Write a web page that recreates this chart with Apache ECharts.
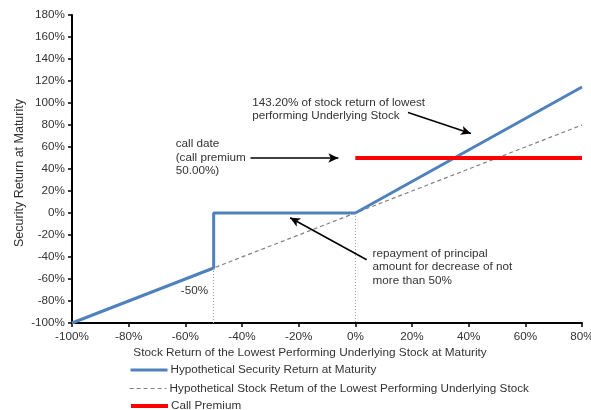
<!DOCTYPE html>
<html><head><meta charset="utf-8">
<script src="https://cdn.jsdelivr.net/npm/echarts@6/dist/echarts.min.js"></script>
<style>html,body{margin:0;padding:0;background:#fff}#c{width:591px;height:410px}</style>
</head><body><div id="c"></div>
<script>
// ---- data ----
const seriesNames = [
  'Hypothetical Security Return at Maturity',
  'Hypothetical Stock Retum of the Lowest Performing Underlying Stock',
  'Call Premium'
];
const securityX = [-100, -50, -50, 0, 80];
const securityY = [-100, -50, 0, 0, 114.56];
const stockX = [-100, 80];
const stockY = [-100, 80];
const premiumX = [0, 80];
const premiumY = [50, 50];
const guideFrom = [[-50, -50], [0, 0]];
const guideTo = [[-50, -100], [0, -100]];
const arrowFrom = [[-37, 50], [18.6, 91.3], [4.0, -42.5]];
const arrowTo = [[-6, 50], [40.8, 72.2], [-23.0, -4.3]];
const noteTexts = [
  'call date\n(call premium\n50.00%)',
  '143.20% of stock return of lowest\nperforming Underlying Stock',
  'repayment of principal\namount for decrease of not\nmore than 50%',
  '-50%'
];
const noteAnchors = [[-63.4, 50.5], [-36.4, 94.5], [6.1, -49.3], [-56.8, -71]];
const noteAlign = ['left', 'left', 'left', 'center'];
const xAxisName = 'Stock Return of the Lowest Performing Underlying Stock at Maturity';
const yAxisName = 'Security Return at Maturity';

const zip = (a, b) => a.map((v, i) => [v, b[i]]);
const FONT = 'Liberation Sans';
const TXT = '#333';
const FS = 11.7;

const legendTops = [364, 382.5, 400];
const legendLineWidths = [3, 1.2, 4];

const chart = echarts.init(document.getElementById('c'));
const option = {
  animation: false,
  backgroundColor: '#fff',
  textStyle: { fontFamily: FONT },
  grid: { left: 72, right: 9, top: 15, bottom: 87, containLabel: false, outerBoundsMode: 'none' },
  legend: seriesNames.map((n, i) => ({
    orient: 'vertical', left: 129, top: legendTops[i], padding: 0,
    itemWidth: 37, itemHeight: 14, itemGap: 4,
    itemStyle: { opacity: 0 },
    lineStyle: { width: legendLineWidths[i] },
    textStyle: { fontFamily: FONT, fontSize: FS, color: TXT, padding: [0, 0, 0, -2] },
    data: [n]
  })),
  xAxis: {
    type: 'value', min: -100, max: 80, interval: 20,
    name: xAxisName, nameLocation: 'middle', nameGap: 24, nameMoveOverlap: false,
    nameTextStyle: { fontFamily: FONT, fontSize: 11.8, color: TXT, padding: [0, 34, 0, 0] },
    axisLine: { show: true, onZero: false, lineStyle: { color: '#000', width: 2 } },
    axisTick: { show: true, inside: false, length: 4, lineStyle: { color: '#000', width: 1.5 } },
    axisLabel: { formatter: '{value}%', fontFamily: FONT, fontSize: FS, color: TXT, margin: 8 },
    splitLine: { show: false }
  },
  yAxis: {
    type: 'value', min: -100, max: 180, interval: 20,
    name: yAxisName, nameLocation: 'middle', nameGap: 46, nameRotate: 90, nameMoveOverlap: false,
    nameTextStyle: { fontFamily: FONT, fontSize: 12.5, color: TXT, padding: [0, 8, 0, 0] },
    axisLine: { show: true, onZero: false, lineStyle: { color: '#000', width: 2 } },
    axisTick: { show: true, inside: false, length: 4, lineStyle: { color: '#000', width: 1.5 } },
    axisLabel: { formatter: '{value}%', fontFamily: FONT, fontSize: FS, color: TXT, margin: 7 },
    splitLine: { show: false }
  },
  series: [
    {
      name: seriesNames[1], type: 'line', symbol: 'none', z: 2,
      data: zip(stockX, stockY),
      lineStyle: { color: '#808080', width: 1.2, type: [4, 3] },
      itemStyle: { color: '#808080' },
      markLine: {
        silent: true, symbol: ['none', 'none'], label: { show: false },
        lineStyle: { color: '#999', width: 1, type: [1, 2] },
        data: guideFrom.map((f, i) => [{ coord: f }, { coord: guideTo[i] }])
      }
    },
    {
      name: seriesNames[0], type: 'line', symbol: 'none', z: 3,
      data: zip(securityX, securityY),
      lineStyle: { color: '#4F81BD', width: 3 },
      itemStyle: { color: '#4F81BD' },
      markLine: {
        silent: true, symbol: ['none', 'arrow'], symbolSize: [7, 10], label: { show: false },
        lineStyle: { color: '#000', width: 1.5, type: 'solid' },
        data: arrowFrom.map((f, i) => [{ coord: f }, { coord: arrowTo[i] }])
      }
    },
    {
      name: seriesNames[2], type: 'line', symbol: 'none', z: 4,
      data: zip(premiumX, premiumY),
      lineStyle: { color: '#FF0000', width: 4 },
      itemStyle: { color: '#FF0000' }
    }
  ]
};
chart.setOption(option);

const graphics = noteTexts.map((t, i) => {
  const p = chart.convertToPixel({ gridIndex: 0 }, noteAnchors[i]);
  return {
    type: 'text', x: p[0], y: p[1], z: 10,
    style: {
      text: t, fill: TXT, font: FS + 'px "' + FONT + '"',
      textAlign: noteAlign[i], textVerticalAlign: 'middle', lineHeight: 13.5
    }
  };
});
chart.setOption({ graphic: graphics });
</script>
</body></html>
